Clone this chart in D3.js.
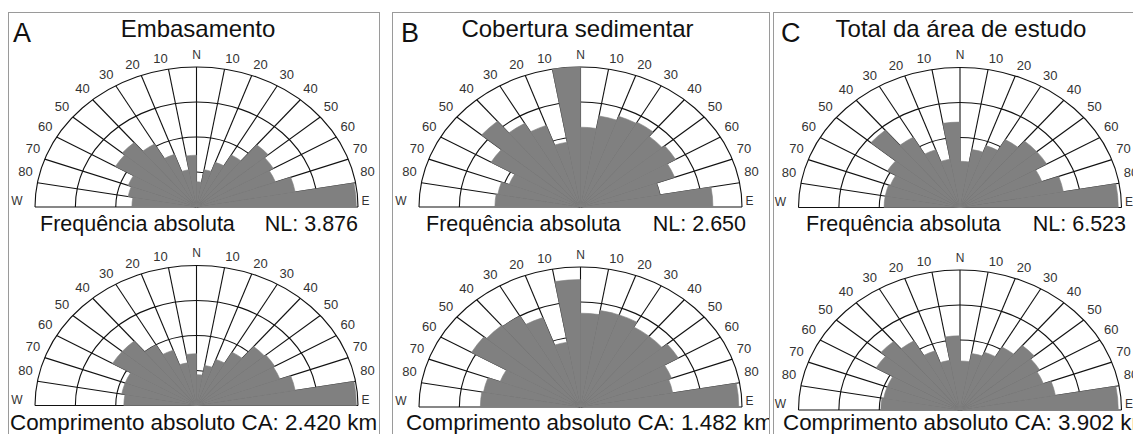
<!DOCTYPE html>
<html>
<head>
<meta charset="utf-8">
<script src="https://cdn.jsdelivr.net/npm/d3@7"></script>
<style>
  body { margin: 0; background: #fff; }
  svg { display: block; font-family: "Liberation Sans", Arial, sans-serif; }
</style>
</head>
<body>
<svg id="chart" width="1133" height="434"></svg>
<script>
// 10° direction classes from W (-90°) to E (+90°), clockwise from N
const classStarts = d3.range(-90, 90, 10);
const tickAngles = [-80, -70, -60, -50, -40, -30, -20, -10, 10, 20, 30, 40, 50, 60, 70, 80];
const tickLabels = tickAngles.map(a => String(Math.abs(a)));

// class sizes, percent of the outer circle, W -> E
const embFreq = [40, 43, 45, 58, 60, 52, 40, 27, 37, 18, 27, 34, 43, 58, 55, 52, 62, 99];
const embLen  = [45, 47, 47, 60, 60, 50, 42, 31, 37, 22, 29, 35, 44, 55, 56, 55, 62, 99];
const sedFreq = [53, 52, 47, 64, 80, 69, 62, 47, 100, 57, 66, 69, 70, 66, 68, 62, 50, 82];
const sedLen  = [62, 61, 53, 78, 76, 75, 68, 47, 91, 67, 70, 70, 66, 66, 70, 60, 58, 98];
const totFreq = [47, 47, 46, 52, 72, 58, 44, 35, 61, 33, 42, 47, 56, 62, 62, 54, 65, 98];
const totLen  = [49, 48, 48, 60, 64, 57, 45, 36, 53, 35, 41, 44, 52, 60, 57, 55, 60, 98];

const panelLetters = ["A", "B", "C"];
const panelTitles = ["Embasamento", "Cobertura sedimentar", "Total da área de estudo"];
const freqLabel = "Frequência absoluta";
const nlLabels = ["NL: 3.876", "NL: 2.650", "NL: 6.523"];
const caLabels = ["Comprimento absoluto CA: 2.420 km",
                  "Comprimento absoluto CA: 1.482 km",
                  "Comprimento absoluto CA: 3.902 km"];
const freqSeries = [embFreq, sedFreq, totFreq];
const lenSeries = [embLen, sedLen, totLen];

// ---- layout ----
const W = 1133, H = 434;
const RX = 161.5, RY = 140;          // rose half-width / height
const panels = [
  { x0: 8,   x1: 379,  cx: 196.5, topY: 207,   botY: 405.5, letterX: 13,  titleX: 198,   freqX: 40,  nlX: 358,  caX: 10 },
  { x0: 392, x1: 769,  cx: 580.5, topY: 207,   botY: 407,   letterX: 401, titleX: 577.5, freqX: 426, nlX: 746,  caX: 406 },
  { x0: 773, x1: 1140, cx: 960,   topY: 207.5, botY: 410,   letterX: 781, titleX: 961,   freqX: 806, nlX: 1126, caX: 783 }
];

const svg = d3.select("#chart");
svg.append("rect").attr("width", W).attr("height", H).attr("fill", "#fff");

const rad = d => d * Math.PI / 180;
const r = d3.scaleLinear().domain([0, 100]).range([0, 1]);
const petal = d3.arc()
  .innerRadius(0)
  .outerRadius(d => r(d.value))
  .startAngle(d => rad(d.start))
  .endAngle(d => rad(d.start + 10));

const GRID = "#111", FILL = "#808080", LABEL = "#333";

function drawRose(g, cx, cy, values) {
  const rose = g.append("g").attr("transform", `translate(${cx},${cy}) scale(${RX},${RY})`);
  // concentric rings
  [0.25, 0.5, 0.75, 1].forEach(k => {
    const p = d3.path();
    p.arc(0, 0, k, -Math.PI, 0);
    rose.append("path").attr("d", p.toString())
      .attr("fill", "none").attr("stroke", GRID).attr("stroke-width", 1.1)
      .attr("vector-effect", "non-scaling-stroke");
  });
  // radial class boundaries
  rose.selectAll("line.ray").data(classStarts.concat([90])).join("line")
    .attr("class", "ray")
    .attr("x1", 0).attr("y1", 0)
    .attr("x2", a => Math.sin(rad(a))).attr("y2", a => -Math.cos(rad(a)))
    .attr("stroke", GRID).attr("stroke-width", 1.1)
    .attr("vector-effect", "non-scaling-stroke");
  // petals
  const data = classStarts.map((s, i) => ({ start: s, value: values[i] }));
  rose.selectAll("path.petal").data(data).join("path")
    .attr("class", "petal")
    .attr("d", petal)
    .attr("fill", FILL).attr("stroke", FILL).attr("stroke-width", 0.6)
    .attr("vector-effect", "non-scaling-stroke");

  // direction labels
  const lab = g.append("g").attr("fill", LABEL).attr("font-size", 13).attr("text-anchor", "middle");
  lab.selectAll("text.tick").data(tickAngles).join("text")
    .attr("class", "tick")
    .attr("x", a => cx + RX * Math.sin(rad(a)) + Math.sign(a) * (7 + 5 * Math.abs(Math.sin(rad(a)))))
    .attr("y", a => cy - RY * Math.cos(rad(a)) - 11)
    .attr("dy", "0.36em")
    .text((a, i) => tickLabels[i]);
  lab.append("text").attr("x", cx).attr("y", cy - RY - 12.5).attr("dy", "0.36em")
    .attr("font-size", 12).text("N");
  lab.append("text").attr("x", cx - RX - 18).attr("y", cy - 6).attr("dy", "0.36em")
    .attr("font-size", 12).text("W");
  lab.append("text").attr("x", cx + RX + 7.5).attr("y", cy - 6).attr("dy", "0.36em")
    .attr("font-size", 12).text("E");
}

panels.forEach((p, i) => {
  const clipId = "clip" + i;
  svg.append("clipPath").attr("id", clipId)
    .append("rect").attr("x", p.x0).attr("y", 12).attr("width", p.x1 - p.x0).attr("height", H);
  const g = svg.append("g").attr("clip-path", `url(#${clipId})`);

  drawRose(g, p.cx, p.topY, freqSeries[i]);
  drawRose(g, p.cx, p.botY, lenSeries[i]);

  g.append("text").attr("x", p.letterX).attr("y", 42)
    .attr("font-size", 27).attr("fill", "#111").text(panelLetters[i]);
  g.append("text").attr("x", p.titleX).attr("y", 37).attr("text-anchor", "middle")
    .attr("font-size", 24).attr("fill", "#111").text(panelTitles[i]);
  g.append("text").attr("x", p.freqX).attr("y", 231)
    .attr("font-size", 21.5).attr("fill", "#111").text(freqLabel);
  g.append("text").attr("x", p.nlX).attr("y", 231).attr("text-anchor", "end")
    .attr("font-size", 21.5).attr("fill", "#111").text(nlLabels[i]);
  g.append("text").attr("x", p.caX).attr("y", 430)
    .attr("font-size", 22.4).attr("fill", "#111").text(caLabels[i]);

  svg.append("rect").attr("x", p.x0 + 0.5).attr("y", 12.5)
    .attr("width", p.x1 - p.x0).attr("height", H + 10)
    .attr("fill", "none").attr("stroke", "#9a9a9a").attr("stroke-width", 1);
});
</script>
</body>
</html>
